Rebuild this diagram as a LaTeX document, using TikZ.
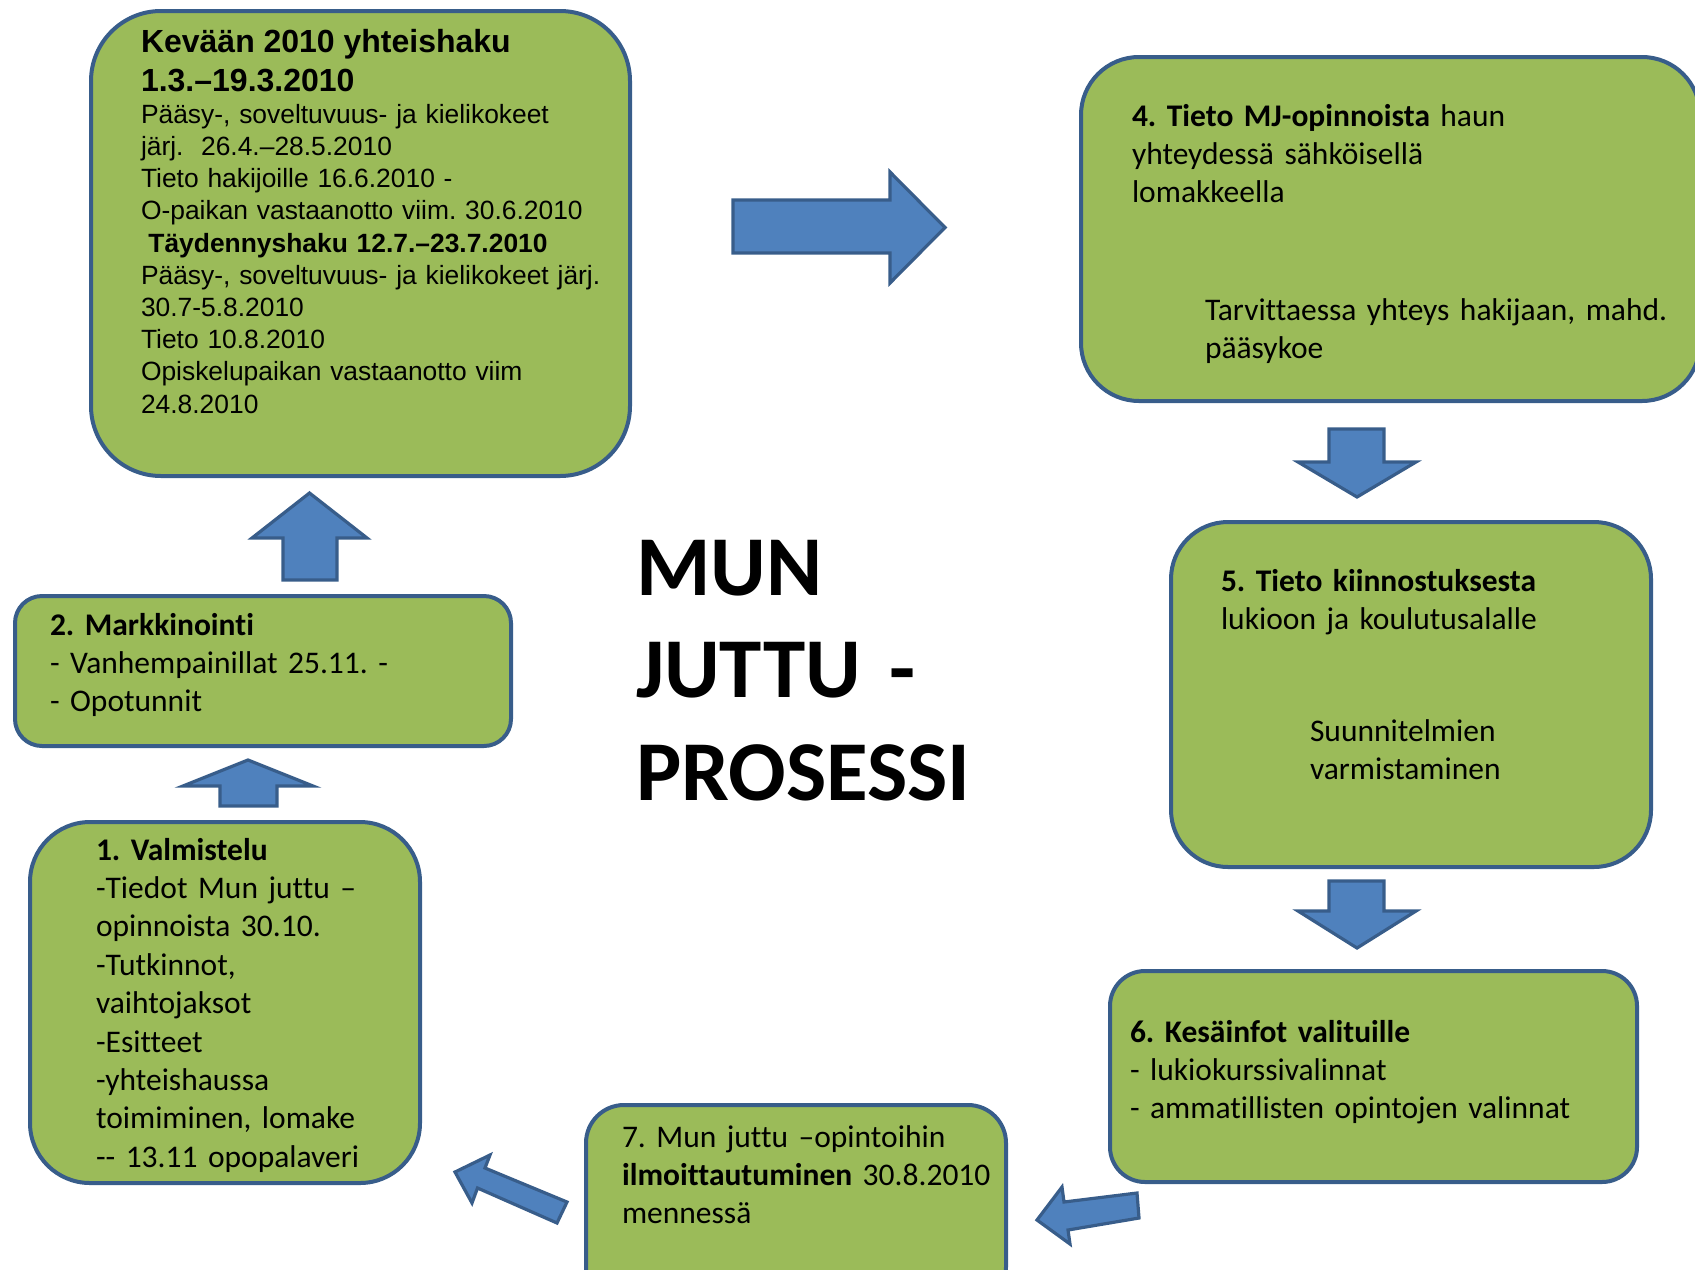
\documentclass[tikz,border=0pt]{standalone}
\usepackage{fontspec}
\setmainfont{Carlito}[Ligatures={TeX,NoCommon}]
\newfontfamily\arialfont{Liberation Sans}
\definecolor{boxgreen}{HTML}{9BBB59}
\definecolor{boxline}{HTML}{385D8A}
\definecolor{arrfill}{HTML}{4F81BD}
\frenchspacing
\begin{document}
\frenchspacing
\begin{tikzpicture}[x=0.5pt,y=-0.5pt,
  box/.style={rectangle,draw=boxline,line width=2pt,fill=boxgreen,inner sep=0pt,outer sep=0pt},
  txt/.style={inner sep=0pt,outer sep=0pt,anchor=base west,align=left,text width=300pt,
              font=\frenchspacing\fontsize{15.75}{19.2}\selectfont},
  blockarrow/.style={draw=boxline,fill=arrfill,line width=1.6pt,line join=miter}]
\useasboundingbox (0,0) rectangle (1695,1269);
\clip (0,0) rectangle (1695,1269);

% boxes
\node[box,minimum width=269.5pt,minimum height=232.5pt,rounded corners=35pt] (bA) at (360.5,243.5) {};
\node[box,minimum width=309.5pt,minimum height=172pt,rounded corners=29pt] (b4) at (1390.5,229) {};
\node[box,minimum width=240pt,minimum height=172.5pt,rounded corners=28.5pt] (b5) at (1411,694.5) {};
\node[box,minimum width=263.5pt,minimum height=105.5pt,rounded corners=17.5pt] (b6) at (1373.5,1076.5) {};
\node[box,minimum width=210pt,minimum height=100pt,rounded corners=19pt] (b7) at (796,1205) {};
\node[box,minimum width=195pt,minimum height=180.5pt,rounded corners=30pt] (b1) at (225,1002.5) {};
\node[box,minimum width=248pt,minimum height=75pt,rounded corners=13.5pt] (b2) at (263,671) {};

% block arrows
\draw[blockarrow] (733,200) -- (890,200) -- (890,172) -- (945,227.5) -- (890,283) -- (890,253) -- (733,253) -- cycle;
\draw[blockarrow] (283,580) -- (283,538) -- (252,538) -- (309.5,493) -- (367,538) -- (337,538) -- (337,580) -- cycle;
\draw[blockarrow] (220,806) -- (220,786) -- (183,786) -- (248,760) -- (313,786) -- (277,786) -- (277,806) -- cycle;
\draw[blockarrow] (1329,429) -- (1384,429) -- (1384,462) -- (1416,462) -- (1357,497) -- (1298,462) -- (1329,462) -- cycle;
\draw[blockarrow] (1329,881) -- (1384,881) -- (1384,911) -- (1416,911) -- (1357,948) -- (1298,911) -- (1329,911) -- cycle;
\draw[blockarrow] (1037,1220) -- (1062,1187) -- (1064,1202) -- (1137,1193) -- (1139,1218) -- (1068,1230) -- (1070,1244) -- cycle;
\draw[blockarrow] (455,1172) -- (490,1155) -- (485,1168) -- (567,1202) -- (557,1223) -- (477.5,1188) -- (472,1203) -- cycle;

% texts
\node[txt,font=\frenchspacing\arialfont\fontsize{13.2}{16.1}\selectfont] (tA) at (141,52) {%
{\fontsize{16}{16.1}\selectfont\bfseries Kevään 2010 yhteishaku}\\[3.4pt]
{\fontsize{16}{16.1}\selectfont\bfseries 1.3.–19.3.2010}\\[0pt]
Pääsy-, soveltuvuus- ja kielikokeet\\
järj.\ \ 26.4.–28.5.2010\\
Tieto hakijoille 16.6.2010 -\\
O-paikan vastaanotto viim. 30.6.2010\\
\hspace*{0.28em}\textbf{Täydennyshaku 12.7.–23.7.2010}\\
Pääsy-, soveltuvuus- ja kielikokeet järj.\\
30.7-5.8.2010\\
Tieto 10.8.2010\\
Opiskelupaikan vastaanotto viim\\
24.8.2010};

\node[txt] (t4a) at (1132,126) {\textbf{4. Tieto MJ-opinnoista} haun\\yhteydessä sähköisellä\\lomakkeella};
\node[txt] (t4b) at (1205,320) {Tarvittaessa yhteys hakijaan, mahd.\\pääsykoe};
\node[txt] (t5a) at (1221,591) {\textbf{5. Tieto kiinnostuksesta}\\lukioon ja koulutusalalle};
\node[txt] (t5b) at (1310,741) {Suunnitelmien\\varmistaminen};
\node[txt] (t6) at (1130,1042) {\textbf{6. Kesäinfot valituille}\\- lukiokurssivalinnat\\- ammatillisten opintojen valinnat};
\node[txt] (t7) at (622,1147) {7. Mun juttu –opintoihin\\\textbf{ilmoittautuminen} 30.8.2010\\mennessä};
\node[txt] (t1) at (96,860) {\textbf{1. Valmistelu}\\-Tiedot Mun juttu –\\opinnoista 30.10.\\-Tutkinnot,\\vaihtojaksot\\-Esitteet\\-yhteishaussa\\toimiminen, lomake\\-{}- 13.11 opopalaveri};
\node[txt] (t2) at (50,635) {\textbf{2. Markkinointi}\\- Vanhempainillat 25.11. -\\- Opotunnit};

\node[txt,font=\fontsize{42.6}{51.25}\selectfont\bfseries] (title) at (636,595) {MUN\\JUTTU -\\PROSESSI};
\end{tikzpicture}
\end{document}
